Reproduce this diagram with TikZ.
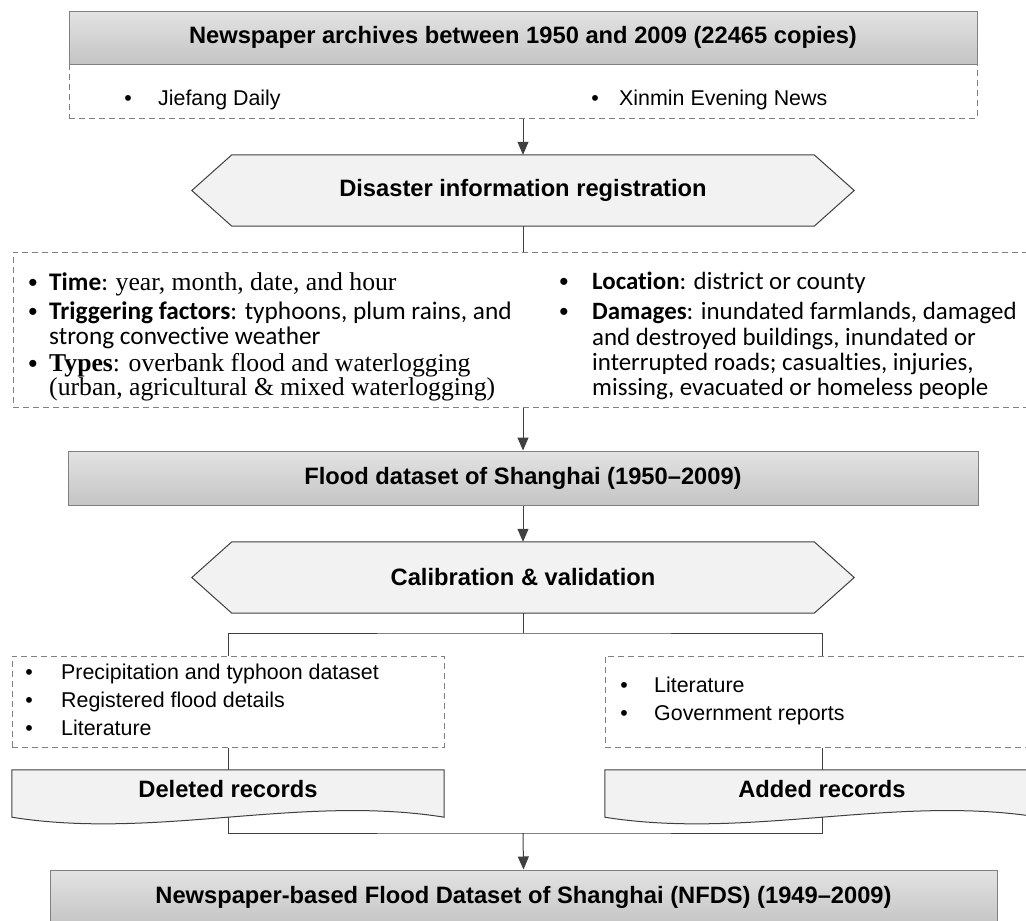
\documentclass[tikz,border=0pt]{standalone}
\usepackage{fontspec}
\setmainfont{Liberation Sans}
\newfontfamily\calib[Ligatures=NoCommon]{Carlito}
\newfontfamily\tnr{Liberation Serif}
\usetikzlibrary{arrows.meta,calc,backgrounds}
\definecolor{dashgray}{HTML}{808080}
\definecolor{edge}{HTML}{404040}
\definecolor{hexfill}{HTML}{F2F2F2}
\begin{document}
\begin{tikzpicture}[x=1pt,y=-1pt,
  hdrfont/.style={font=\fontsize{23.7}{28}\selectfont\bfseries},
  graybox/.style={draw=dashgray, line width=1pt, top color=black!11, bottom color=black!23, inner sep=0pt, hdrfont},
  listbox/.style={draw=dashgray, dash pattern=on 6pt off 4pt, line width=1pt, inner sep=0pt},
  frame/.style={inner sep=0pt, hdrfont},
  shapeline/.style={draw=edge, line width=1pt, fill=hexfill},
  conn/.style={draw=edge, line width=1pt},
  arr/.style={conn, -{Triangle[length=13pt,width=11pt]}},
  ar/.style={anchor=base west, inner sep=0pt, font=\fontsize{21.4}{26}\selectfont},
  bul/.style={anchor=base, inner sep=0pt, font=\fontsize{21.4}{26}\selectfont},
  bigbul/.style={anchor=base, inner sep=0pt, font=\fontsize{26}{26}\selectfont},
  cb/.style={anchor=base west, inner sep=0pt, font=\fontsize{25.3}{26}\calib},
  cbr/.style={anchor=base west, inner sep=0pt, font=\fontsize{24.9}{26}\calib},
  tn/.style={anchor=base west, inner sep=0pt, font=\fontsize{25.7}{26}\tnr},
]
\useasboundingbox (0,0) rectangle (1026,921);

% top
\node[listbox, minimum width=908pt, minimum height=54pt] (toplist) at (523,91) {};
\node[graybox, minimum width=908pt, minimum height=53pt] (top) at (523,37.5) {Newspaper archives between 1950 and 2009 (22465 copies)};
\node[bul] (tb1) at (128,105) {•};
\node[ar] (tt1) at (158,105) {Jiefang Daily};
\node[bul] (tb2) at (595,105) {•};
\node[ar] (tt2) at (619,105) {Xinmin Evening News};

% hexagon 1
\node[frame, minimum width=662pt, minimum height=71pt] (hex1) at (523,190.5) {Disaster information registration};

% middle list
\node[listbox, minimum width=1020pt, minimum height=155pt] (midlist) at (523,329.5) {};
\node[bigbul] (mb1) at (33,291) {•};
\node[cb] (mt1) at (49,290) {\textbf{Time}: {\tnr\fontsize{25.7}{26}\selectfont year, month, date, and hour}};
\node[bigbul] (mb2) at (33,320) {•};
\node[cb] (mt2) at (49,319) {\textbf{Triggering factors}: typhoons, plum rains, and};
\node[cb] (mt3) at (49,344) {strong convective weather};
\node[bigbul] (mb3) at (33,372) {•};
\node[tn] (mt4) at (49,371) {\textbf{Types}: overbank flood and waterlogging};
\node[tn] (mt5) at (49,395) {(urban, agricultural \& mixed waterlogging)};
\node[bigbul] (mb4) at (564,290) {•};
\node[cbr] (mr1) at (592,289) {\textbf{Location}: district or county};
\node[bigbul] (mb5) at (564,320) {•};
\node[cbr] (mr2) at (592,319) {\textbf{Damages}: inundated farmlands, damaged};
\node[cbr] (mr3) at (592,345) {and destroyed buildings, inundated or};
\node[cbr] (mr4) at (592,370) {interrupted roads; casualties, injuries,};
\node[cbr] (mr5) at (592,395) {missing, evacuated or homeless people};

% flood dataset
\node[graybox, minimum width=910pt, minimum height=54pt] (flood) at (523,478) {Flood dataset of Shanghai (1950–2009)};

% hexagon 2
\node[frame, minimum width=662pt, minimum height=71pt] (hex2) at (523,577.5) {Calibration \& validation};

% lower lists
\node[listbox, minimum width=432pt, minimum height=91pt] (leftlist) at (228,701.5) {};
\node[bul] (lb1) at (29,679) {•};
\node[ar] (lt1) at (61,679) {Precipitation and typhoon dataset};
\node[bul] (lb2) at (29,707) {•};
\node[ar] (lt2) at (61,707) {Registered flood details};
\node[bul] (lb3) at (29,735) {•};
\node[ar] (lt3) at (61,735) {Literature};
\node[listbox, minimum width=434pt, minimum height=91pt] (rightlist) at (822,701.5) {};
\node[bul] (rb1) at (624,692) {•};
\node[ar] (rt1) at (654,692) {Literature};
\node[bul] (rb2) at (624,720) {•};
\node[ar] (rt2) at (654,720) {Government reports};

% document shapes
\node[frame, minimum width=432pt, minimum height=47pt, text depth=10pt] (del) at (228,793.5) {Deleted records};
\node[frame, minimum width=434pt, minimum height=47pt, text depth=10pt] (add) at (822,793.5) {Added records};

% final
\node[graybox, minimum width=947pt, minimum height=55pt] (nfds) at (523.5,897.5) {Newspaper-based Flood Dataset of Shanghai (NFDS) (1949–2009)};

\begin{pgfonlayer}{background}
\foreach \h in {hex1,hex2}{
  \path[shapeline] (\h.west) -- ($(\h.north west)+(40,0)$) -- ($(\h.north east)+(-40,0)$) -- (\h.east) -- ($(\h.south east)+(-40,0)$) -- ($(\h.south west)+(40,0)$) -- cycle;
}
\foreach \d in {del,add}{
  \path[shapeline] (\d.south west) -- (\d.north west) -- (\d.north east) -- (\d.south east) .. controls ($(\d.south east)+(-144,-23)$) and ($(\d.south west)+(144,23)$) .. (\d.south west) -- cycle;
}
\end{pgfonlayer}

% connectors
\draw[arr] (toplist.south) -- (hex1.north);
\draw[conn] (hex1.south) -- (midlist.north);
\draw[arr] (midlist.south) -- (flood.north);
\draw[arr] (flood.south) -- (hex2.north);
\coordinate (split) at (523,633);
\draw[conn] (hex2.south) -- (split);
\draw[conn] (leftlist.north) |- (split) -| (rightlist.north);
\draw[conn] (leftlist.south) -- (del.north);
\draw[conn] (rightlist.south) -- (add.north);
\coordinate (merge) at (523,833);
\draw[conn] (del.south) |- (merge) -| (add.south);
\draw[arr] (merge) -- (nfds.north);
\end{tikzpicture}
\end{document}
